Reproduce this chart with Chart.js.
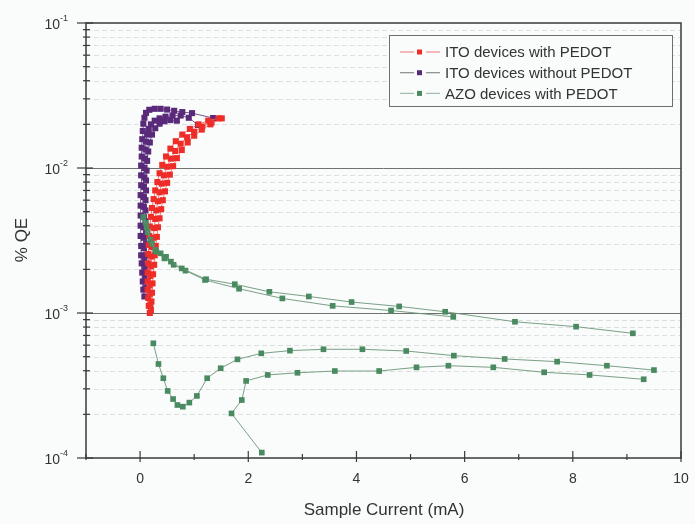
<!DOCTYPE html>
<html>
<head>
<meta charset="utf-8">
<script src="https://cdn.jsdelivr.net/npm/chart.js@4/dist/chart.umd.min.js"></script>
<style>
  html, body { margin: 0; padding: 0; background: #fafbfb; }
  canvas { display: block; }
</style>
</head>
<body>
<canvas id="qe" width="695" height="524"></canvas>
<script>
// ---- measured sweeps: [current (mA), QE (%)] ----
const itoPedotA = [[0.18,1.0e-3],[0.16,1.12e-3],[0.15,1.27e-3],[0.14,1.45e-3],[0.14,1.65e-3],[0.14,1.9e-3],[0.15,2.2e-3],[0.15,2.55e-3],[0.16,2.95e-3],[0.17,3.4e-3],[0.18,3.95e-3],[0.2,4.6e-3],[0.22,5.3e-3],[0.25,6.1e-3],[0.28,7.0e-3],[0.32,8.0e-3],[0.36,9.2e-3],[0.41,1.05e-2],[0.48,1.2e-2],[0.56,1.36e-2],[0.66,1.53e-2],[0.78,1.7e-2],[0.92,1.86e-2],[1.08,2.0e-2],[1.26,2.12e-2],[1.45,2.2e-2]];
const itoPedotB = [[0.2,1.05e-3],[0.21,1.2e-3],[0.22,1.38e-3],[0.23,1.6e-3],[0.24,1.85e-3],[0.26,2.15e-3],[0.27,2.5e-3],[0.29,2.9e-3],[0.31,3.35e-3],[0.33,3.9e-3],[0.36,4.5e-3],[0.39,5.2e-3],[0.42,6.0e-3],[0.46,6.9e-3],[0.5,7.9e-3],[0.55,9.0e-3],[0.61,1.03e-2],[0.68,1.17e-2],[0.77,1.33e-2],[0.88,1.5e-2],[1.0,1.67e-2],[1.14,1.84e-2],[1.3,2.0e-2],[1.51,2.2e-2]];
const itoPedotC = [[0.19,1.15e-3],[0.18,1.35e-3],[0.18,1.55e-3],[0.19,1.8e-3],[0.2,2.1e-3],[0.21,2.45e-3],[0.22,2.85e-3],[0.24,3.3e-3],[0.26,3.85e-3],[0.28,4.45e-3],[0.3,5.1e-3],[0.33,5.9e-3],[0.36,6.8e-3],[0.4,7.8e-3],[0.44,8.9e-3],[0.5,1.02e-2],[0.57,1.16e-2],[0.65,1.31e-2],[0.75,1.47e-2],[0.87,1.63e-2],[1.0,1.78e-2],[1.15,1.93e-2],[1.32,2.06e-2]];

const itoBareA = [[0.08,1.3e-3],[0.06,1.45e-3],[0.05,1.65e-3],[0.04,1.9e-3],[0.03,2.2e-3],[0.02,2.5e-3],[0.02,2.9e-3],[0.01,3.4e-3],[0.01,4.0e-3],[0.01,4.7e-3],[0.01,5.5e-3],[0.01,6.5e-3],[0.02,7.6e-3],[0.02,8.9e-3],[0.02,1.04e-2],[0.03,1.2e-2],[0.03,1.38e-2],[0.04,1.58e-2],[0.05,1.8e-2],[0.06,2.02e-2],[0.08,2.22e-2],[0.11,2.4e-2],[0.17,2.52e-2],[0.27,2.56e-2],[0.38,2.56e-2],[0.5,2.53e-2],[0.63,2.48e-2],[0.78,2.43e-2],[0.96,2.39e-2],[1.35,2.21e-2]];
const itoBareB = [[0.1,1.5e-3],[0.09,1.75e-3],[0.08,2.05e-3],[0.08,2.4e-3],[0.07,2.8e-3],[0.07,3.3e-3],[0.07,3.9e-3],[0.07,4.6e-3],[0.07,5.4e-3],[0.07,6.3e-3],[0.07,7.4e-3],[0.08,8.6e-3],[0.08,1.0e-2],[0.09,1.16e-2],[0.1,1.34e-2],[0.11,1.52e-2],[0.13,1.7e-2],[0.16,1.86e-2],[0.2,2.0e-2],[0.27,2.12e-2],[0.36,2.2e-2],[0.47,2.26e-2],[0.6,2.3e-2],[0.75,2.3e-2],[0.9,2.22e-2],[1.07,1.98e-2]];
const itoBareC = [[0.13,1.8e-3],[0.12,2.1e-3],[0.11,2.5e-3],[0.11,3.0e-3],[0.11,3.6e-3],[0.1,4.3e-3],[0.1,5.1e-3],[0.1,6.0e-3],[0.11,7.0e-3],[0.11,8.2e-3],[0.12,9.6e-3],[0.13,1.12e-2],[0.15,1.3e-2],[0.18,1.5e-2],[0.22,1.7e-2],[0.28,1.88e-2],[0.36,2.02e-2],[0.45,2.1e-2],[0.56,2.14e-2],[0.68,2.12e-2]];

const azoUpperA = [[0.06,4.6e-3],[0.12,3.9e-3],[0.19,3.2e-3],[0.28,2.72e-3],[0.38,2.58e-3],[0.48,2.44e-3],[0.57,2.26e-3],[0.77,2.03e-3],[1.22,1.71e-3],[1.75,1.58e-3],[2.39,1.40e-3],[3.12,1.30e-3],[3.91,1.19e-3],[4.79,1.11e-3],[5.64,1.02e-3],[6.93,8.7e-4],[8.06,8.05e-4],[9.11,7.24e-4]];
const azoUpperB = [[0.1,4.2e-3],[0.14,3.6e-3],[0.22,3.0e-3],[0.3,2.65e-3],[0.45,2.38e-3],[0.62,2.15e-3],[0.84,1.96e-3],[1.2,1.69e-3],[1.83,1.47e-3],[2.63,1.26e-3],[3.56,1.12e-3],[4.64,1.04e-3],[5.79,9.4e-4]];
const azoLowerA = [[0.245,6.18e-4],[0.34,4.45e-4],[0.43,3.55e-4],[0.51,2.90e-4],[0.61,2.55e-4],[0.69,2.32e-4],[0.79,2.26e-4],[0.91,2.41e-4],[1.05,2.68e-4],[1.24,3.55e-4],[1.49,4.16e-4],[1.80,4.79e-4],[2.24,5.27e-4],[2.77,5.50e-4],[3.39,5.62e-4],[4.11,5.62e-4],[4.92,5.47e-4],[5.80,5.08e-4],[6.74,4.82e-4],[7.71,4.62e-4],[8.63,4.33e-4],[9.50,4.04e-4]];
const azoLowerB = [[2.25,1.09e-4],[1.69,2.03e-4],[1.88,2.51e-4],[1.96,3.40e-4],[2.36,3.74e-4],[2.91,3.87e-4],[3.60,3.98e-4],[4.42,3.98e-4],[5.11,4.22e-4],[5.70,4.33e-4],[6.53,4.22e-4],[7.47,3.90e-4],[8.31,3.74e-4],[9.31,3.49e-4]];

// ---- axis labelling ----
const xTickValues = [0, 2, 4, 6, 8, 10];
const xTickLabels = ['0', '2', '4', '6', '8', '10'];
const xMinorValues = [-1, 1, 3, 5, 7, 9];
const yDecades = [-4, -3, -2, -1];
const seriesNames = ['ITO devices with PEDOT', 'ITO devices without PEDOT', 'AZO devices with PEDOT'];

const FONT = "'Liberation Sans', Arial, Helvetica, sans-serif";
const TEXT = '#333333';

const styles = [
  { marker: '#ee2d28', line: 'rgba(236,96,96,0.85)', legendLine: '#ee8a8a', order: 1, radius: 4.3 },
  { marker: '#5a2a7a', line: 'rgba(104,70,128,0.9)', legendLine: '#8a8a8a', order: 2, radius: 4.3 },
  { marker: '#4a8a60', line: 'rgba(108,150,122,0.9)', legendLine: '#9fbfaa', order: 0, radius: 4.0 }
];

function sweep(group, pts) {
  const s = styles[group];
  return {
    label: seriesNames[group],
    data: pts.map(([x, y]) => ({ x, y })),
    showLine: true,
    borderColor: s.line,
    borderWidth: 1,
    backgroundColor: s.marker,
    pointBackgroundColor: s.marker,
    pointBorderWidth: 0,
    pointStyle: 'rect',
    pointRadius: s.radius,
    order: s.order
  };
}

const datasets = [
  sweep(0, itoPedotA), sweep(0, itoPedotB), sweep(0, itoPedotC),
  sweep(1, itoBareA), sweep(1, itoBareB), sweep(1, itoBareC),
  sweep(2, azoUpperA), sweep(2, azoUpperB), sweep(2, azoLowerA), sweep(2, azoLowerB)
];

// grid behind the data, frame / ticks / labels / legend on top
const gridPlugin = {
  id: 'logGrid',
  beforeDatasetsDraw(chart) {
    const { ctx, chartArea: a, scales: { y } } = chart;
    ctx.save();
    ctx.lineWidth = 1;
    for (let e = -4; e < -1; e++) {
      for (let m = 2; m <= 9; m++) {
        const py = Math.round(y.getPixelForValue(m * Math.pow(10, e))) + 0.5;
        ctx.strokeStyle = '#dcdfde';
        ctx.setLineDash([5, 3]);
        ctx.beginPath(); ctx.moveTo(a.left, py); ctx.lineTo(a.right, py); ctx.stroke();
      }
    }
    ctx.setLineDash([]);
    [-3, -2].forEach(e => {
      const py = Math.round(y.getPixelForValue(Math.pow(10, e))) + 0.5;
      ctx.strokeStyle = '#707070';
      ctx.beginPath(); ctx.moveTo(a.left, py); ctx.lineTo(a.right, py); ctx.stroke();
    });
    ctx.restore();
  },
  afterDatasetsDraw(chart) {
    const { ctx, chartArea: a, scales: { x, y } } = chart;
    ctx.save();
    ctx.strokeStyle = '#3a3a3a';
    ctx.lineWidth = 1.5;
    ctx.strokeRect(a.left, a.top, a.right - a.left, a.bottom - a.top);

    ctx.lineWidth = 1.2;
    for (let e = -4; e < -1; e++) {
      for (let m = 2; m <= 9; m++) {
        const py = y.getPixelForValue(m * Math.pow(10, e));
        ctx.beginPath(); ctx.moveTo(a.left - 3, py); ctx.lineTo(a.left + 4, py); ctx.stroke();
      }
    }
    yDecades.forEach(e => {
      const py = y.getPixelForValue(Math.pow(10, e));
      ctx.beginPath(); ctx.moveTo(a.left - 9, py); ctx.lineTo(a.left + 7, py); ctx.stroke();
    });
    xTickValues.forEach(v => {
      const px = x.getPixelForValue(v);
      ctx.beginPath(); ctx.moveTo(px, a.bottom + 4); ctx.lineTo(px, a.bottom - 7); ctx.stroke();
    });
    xMinorValues.forEach(v => {
      const px = x.getPixelForValue(v);
      ctx.beginPath(); ctx.moveTo(px, a.bottom + 2); ctx.lineTo(px, a.bottom - 4); ctx.stroke();
    });

    ctx.fillStyle = TEXT;
    yDecades.forEach(e => {
      const py = y.getPixelForValue(Math.pow(10, e));
      ctx.font = '14px ' + FONT;
      ctx.textAlign = 'right';
      ctx.textBaseline = 'middle';
      ctx.fillText('10', 60, py + 2);
      ctx.font = '9px ' + FONT;
      ctx.textAlign = 'left';
      ctx.fillText('-' + Math.abs(e), 60, py - 4);
    });
    ctx.font = '14px ' + FONT;
    ctx.textAlign = 'center';
    ctx.textBaseline = 'middle';
    xTickValues.forEach((v, i) => {
      ctx.fillText(xTickLabels[i], x.getPixelForValue(v), 479);
    });

    ctx.font = '17px ' + FONT;
    ctx.fillText('Sample Current (mA)', 384, 510);
    ctx.save();
    ctx.translate(22, 240);
    ctx.rotate(-Math.PI / 2);
    ctx.fillText('% QE', 0, 0);
    ctx.restore();

    const lx = 389, ly = 35, lw = 283, lh = 71;
    ctx.fillStyle = '#fafbfb';
    ctx.fillRect(lx, ly, lw, lh);
    ctx.strokeStyle = '#6e6e6e';
    ctx.lineWidth = 1;
    ctx.strokeRect(lx + 0.5, ly + 0.5, lw, lh);
    seriesNames.forEach((name, i) => {
      const ry = 52 + i * 20.7;
      const s = styles[i];
      ctx.strokeStyle = s.legendLine;
      ctx.lineWidth = 1.2;
      ctx.beginPath(); ctx.moveTo(400, ry); ctx.lineTo(414, ry); ctx.stroke();
      ctx.beginPath(); ctx.moveTo(426, ry); ctx.lineTo(440, ry); ctx.stroke();
      ctx.fillStyle = s.marker;
      ctx.fillRect(417, ry - 2.5, 5, 5);
      ctx.fillStyle = TEXT;
      ctx.font = '15px ' + FONT;
      ctx.textAlign = 'left';
      ctx.textBaseline = 'middle';
      ctx.fillText(name, 445, ry + 1);
    });
    ctx.restore();
  }
};

new Chart(document.getElementById('qe'), {
  type: 'scatter',
  data: { datasets },
  options: {
    responsive: false,
    animation: false,
    layout: { padding: { left: 86, right: 14, top: 23, bottom: 66 } },
    plugins: { legend: { display: false }, tooltip: { enabled: false } },
    scales: {
      x: {
        type: 'linear', min: -1, max: 10,
        ticks: { display: false },
        grid: { display: false, drawTicks: false },
        border: { display: false },
        afterFit: s => { s.height = 0; }
      },
      y: {
        type: 'logarithmic', min: 1e-4, max: 1e-1,
        ticks: { display: false },
        grid: { display: false, drawTicks: false },
        border: { display: false },
        afterFit: s => { s.width = 0; }
      }
    }
  },
  plugins: [gridPlugin]
});
</script>
</body>
</html>
